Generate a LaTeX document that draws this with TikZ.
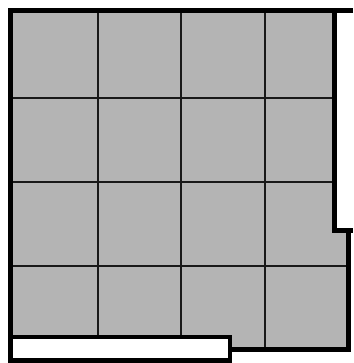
\documentclass[tikz,border=0pt]{standalone}
\usepackage{xcolor}
\usepackage{tikz}
\usetikzlibrary{calc}

\definecolor{cellgray}{RGB}{180,180,180}

\begin{document}
\begin{tikzpicture}[
    x=1pt, y=-1pt,
    cellfill/.style={fill=cellgray, draw=none},
    gridline/.style={line width=2pt, color=black!90},
    border/.style={line width=5pt, color=black, line join=miter},
    slot/.style={line width=4.6pt, draw=black, fill=white}
]
\useasboundingbox (0,0) rectangle (353,363);

% ============================================================
% CORNERS OF THE OUTLINE
% ============================================================
\coordinate (tl)   at (10.5,10.7);
\coordinate (tr)   at (334.3,10.7);
\coordinate (tend) at (353,10.7);
\coordinate (stepA) at (334.3,230.8);
\coordinate (stepB) at (348.2,230.8);
\coordinate (stepE) at (353,230.8);
\coordinate (br)   at (348.2,349.2);
\coordinate (bm)   at (229.8,349.2);
\coordinate (bl)   at (10.5,337);

% ============================================================
% GRAY AREA
% ============================================================
\fill[cellfill] (tl) -- (tr) -- (stepA) -- (stepB) -- (br) -- (bm)
    -- (229.8,337) -- (bl) -- cycle;

% ============================================================
% GRID
% ============================================================
\foreach \gx in {97.7,181} {
    \draw[gridline] (\gx,10.7) -- (\gx,337);
}
\draw[gridline] (265.3,10.7) -- (265.3,349.2);
\foreach \gy in {98,182.3} {
    \draw[gridline] (10.5,\gy) -- (334.3,\gy);
}
\draw[gridline] (10.5,266) -- (348.2,266);

% ============================================================
% THICK BORDER
% ============================================================
\draw[border] (tend) -- (tl) -- (bl);
\draw[border] (tr) -- (stepA) -- (stepE);
\draw[border] (stepB) -- (br) -- (bm);

% white slot along the bottom
\draw[slot] (10.3,336.8) rectangle (229.8,360.3);

\end{tikzpicture}
\end{document}
